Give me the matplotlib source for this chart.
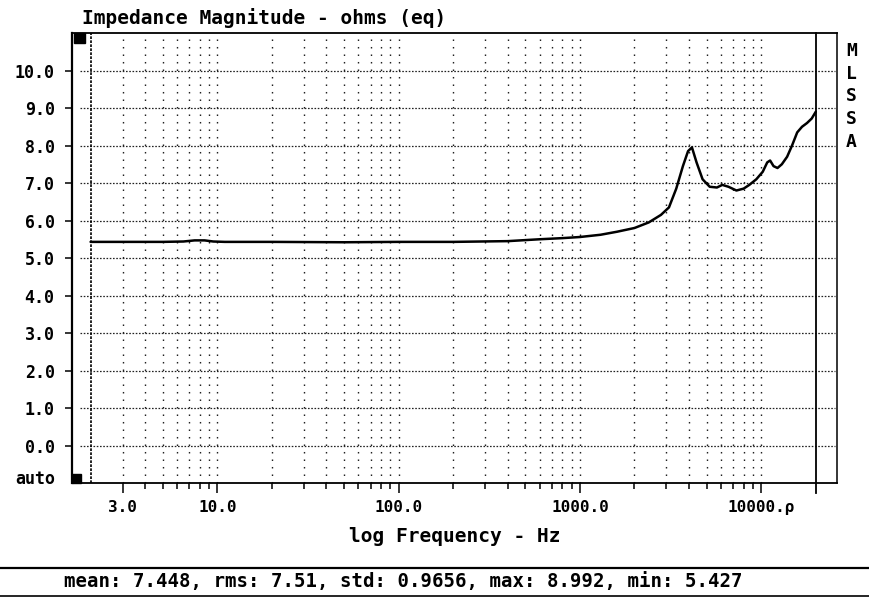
"""
MLSSA impedance magnitude printout, redrawn with matplotlib.
Log frequency on X, ohms on Y, stats line under the plot.
"""

import matplotlib

matplotlib.use("Agg")
import matplotlib.pyplot as plt
from matplotlib.lines import Line2D
from matplotlib.patches import Rectangle
from matplotlib.ticker import FixedLocator, FixedFormatter, NullFormatter

# --- data -----------------------------------------------------------------
FREQ_HZ = [
    2, 3, 5, 6.5, 7.5, 8.5, 9.5, 11, 20, 50, 100, 200, 400, 600, 800,
    1000, 1300, 1600, 2000, 2400, 2800, 3100, 3400, 3700, 3950, 4150,
    4400, 4750, 5200, 5700, 6100, 6600, 7300, 8000, 8600, 9400, 10200,
    10800, 11200, 11700, 12300, 13000, 13900, 14800, 15800, 16800,
    17900, 19000, 20000,
]
IMPEDANCE_OHM = [
    5.43, 5.43, 5.43, 5.44, 5.47, 5.47, 5.44, 5.43, 5.43, 5.42, 5.43,
    5.43, 5.45, 5.50, 5.53, 5.56, 5.62, 5.70, 5.80, 5.95, 6.15, 6.35,
    6.85, 7.45, 7.85, 7.95, 7.55, 7.10, 6.90, 6.88, 6.95, 6.90, 6.80,
    6.85, 6.95, 7.10, 7.30, 7.55, 7.60, 7.45, 7.40, 7.50, 7.70, 8.00,
    8.35, 8.50, 8.60, 8.72, 8.90,
]

Y_TICKS = [0.0, 1.0, 2.0, 3.0, 4.0, 5.0, 6.0, 7.0, 8.0, 9.0, 10.0]
Y_TICK_LABELS = ["0.0", "1.0", "2.0", "3.0", "4.0", "5.0", "6.0", "7.0", "8.0", "9.0", "10.0"]
Y_AUTO_LABEL = "auto"
Y_AUTO_POS = -0.88

X_MAJOR_TICKS = [3, 10, 100, 1000, 10000]
X_MAJOR_LABELS = ["3.0", "10.0", "100.0", "1000.0", "10000.ρ"]
X_MINOR_TICKS = [
    4, 5, 6, 7, 8, 9,
    20, 30, 40, 50, 60, 70, 80, 90,
    200, 300, 400, 500, 600, 700, 800, 900,
    2000, 3000, 4000, 5000, 6000, 7000, 8000, 9000,
]
X_LIMITS = (1.58, 26200)
Y_LIMITS = (-1.0, 11.0)
DATA_START_HZ = 2.0
DATA_END_HZ = 20000.0

TITLE = "Impedance Magnitude - ohms (eq)"
X_LABEL = "log Frequency - Hz"
SIDE_LABEL = "MLSSA"
STATS_TEXT = "mean: 7.448, rms: 7.51, std: 0.9656, max: 8.992, min: 5.427"

MONO = ["DejaVu Sans Mono", "DejaVu Sans"]


def _apply_printout_style():
    plt.rcParams.update(
        {
            "font.family": MONO,
            "font.weight": "bold",
            "axes.linewidth": 1.2,
            "xtick.labelsize": 11.5,
            "ytick.labelsize": 12,
        }
    )


def plot_impedance(out_path="out.png"):
    _apply_printout_style()

    fig = plt.figure(figsize=(8.69, 5.98), dpi=100)
    ax = fig.add_axes([0.0829, 0.1923, 0.8803, 0.7525])
    ax.set_xscale("log")
    ax.set_xlim(*X_LIMITS)
    ax.set_ylim(*Y_LIMITS)

    # dotted grid like the plotter output
    for y in Y_TICKS:
        ax.axhline(y, xmin=0.0105, xmax=0.997, color="#222222", lw=0.9,
                   linestyle=(0, (1.3, 1.3)), zorder=1)
    for f in X_MAJOR_TICKS + X_MINOR_TICKS:
        ax.axvline(f, color="#222222", lw=1.0, linestyle=(0, (1.1, 4.3)), zorder=1)

    # data start cursor (dashed) and data end line
    ax.axvline(DATA_START_HZ, color="black", lw=1.2, linestyle=(0, (1.6, 0.8)), zorder=2)
    ax.axvline(DATA_END_HZ, ymin=-0.022, ymax=1.0, color="black", lw=1.3,
               clip_on=False, zorder=3)

    ax.plot(FREQ_HZ, IMPEDANCE_OHM, color="black", lw=1.8, zorder=4,
            solid_joinstyle="round", solid_capstyle="round")

    # ticks
    ax.yaxis.set_major_locator(FixedLocator(Y_TICKS))
    ax.yaxis.set_major_formatter(FixedFormatter(Y_TICK_LABELS))
    ax.xaxis.set_major_locator(FixedLocator(X_MAJOR_TICKS))
    ax.xaxis.set_major_formatter(FixedFormatter(X_MAJOR_LABELS))
    ax.xaxis.set_minor_locator(FixedLocator(X_MINOR_TICKS))
    ax.xaxis.set_minor_formatter(NullFormatter())
    ax.tick_params(axis="y", direction="out", length=5, width=1.1, pad=7.5)
    ax.tick_params(axis="x", which="major", direction="out", length=7.2, width=1.1, pad=5)
    ax.tick_params(axis="x", which="minor", direction="out", length=4.3, width=1.1)
    for lbl in ax.get_xticklabels() + ax.get_yticklabels():
        lbl.set_fontweight("bold")

    ax.spines["left"].set_linewidth(1.6)
    ax.spines["top"].set_linewidth(1.3)
    ax.spines["bottom"].set_linewidth(1.3)
    ax.spines["right"].set_linewidth(1.1)

    ax.text(-0.0222, Y_AUTO_POS, Y_AUTO_LABEL, transform=ax.get_yaxis_transform(),
            ha="right", va="center", fontsize=12, fontweight="bold")

    # corner blocks of the MLSSA screen
    ax.add_patch(Rectangle((0.003, 0.978), 0.014, 0.022, transform=ax.transAxes,
                           color="black", clip_on=False, zorder=5))
    ax.add_patch(Rectangle((0.0, 0.0), 0.012, 0.02, transform=ax.transAxes,
                           color="black", clip_on=False, zorder=5))

    ax.set_xlabel(X_LABEL, fontsize=14, fontweight="bold", labelpad=8.5)

    fig.text(0.094, 0.970, TITLE, ha="left", va="center", fontsize=14, fontweight="bold")

    for i, ch in enumerate(SIDE_LABEL):
        fig.text(0.980, 0.915 - i * 0.038, ch, ha="center", va="center",
                 fontsize=13, fontweight="bold")

    # stats strip at the bottom
    fig.add_artist(Line2D([0, 1], [0.0502, 0.0502], transform=fig.transFigure,
                          color="black", lw=1.6))
    fig.add_artist(Line2D([0, 1], [0.0033, 0.0033], transform=fig.transFigure,
                          color="black", lw=1.2))
    fig.text(0.464, 0.027, STATS_TEXT, ha="center", va="center", fontsize=13.7,
             fontweight="bold")

    fig.savefig(out_path, dpi=100, facecolor="white")


if __name__ == "__main__":
    plot_impedance("out.png")
